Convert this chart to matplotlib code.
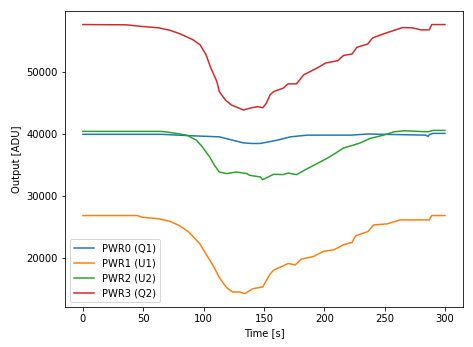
import numpy as np
import matplotlib
matplotlib.use("Agg")
import matplotlib.pyplot as plt

# values
t_pwr0 = [0, 30, 65, 91, 113, 124, 133, 140, 147, 161, 172, 186, 222, 236, 284, 286, 287, 290, 300]
pwr0 = [39950, 39950, 39950, 39710, 39550, 39010, 38580, 38480, 38480, 39010, 39550, 39820,
        39820, 40000, 39820, 39600, 39900, 40100, 40100]

t_pwr1 = [0, 45, 49, 63, 72, 80, 88, 97, 102, 108, 113, 119, 122, 124, 130, 134, 141, 149,
          155, 158, 166, 170, 176, 181, 191, 199, 208, 216, 223, 226, 236, 241, 252, 263,
          277, 287, 289, 300]
pwr1 = [26900, 26900, 26630, 26370, 25980, 25280, 24200, 22330, 20710, 18820, 16930, 15320,
        14900, 14620, 14620, 14350, 15150, 15430, 17480, 18120, 18820, 19190, 18980, 19900,
        20320, 21130, 21400, 22210, 22590, 23670, 24310, 25400, 25560, 26200, 26200, 26200,
        26900, 26900]

t_pwr2 = [0, 65, 74, 86, 94, 99, 105, 109, 113, 119, 127, 136, 138, 147, 149, 158, 166, 170,
          177, 186, 194, 202, 211, 216, 224, 230, 238, 249, 258, 266, 286, 290, 300]
pwr2 = [40420, 40420, 40200, 39820, 39010, 37930, 36320, 34980, 33890, 33640, 33890, 33640,
        33370, 33100, 32670, 33530, 33480, 33730, 33470, 34440, 35250, 36060, 37120, 37770,
        38210, 38580, 39290, 39820, 40360, 40520, 40360, 40580, 40580]

t_pwr3 = [0, 36, 47, 63, 72, 80, 91, 97, 102, 106, 111, 113, 118, 123, 133, 140, 145, 149,
          152, 155, 158, 166, 170, 177, 183, 194, 201, 211, 216, 223, 227, 236, 240, 249,
          258, 265, 273, 280, 287, 289, 300]
pwr3 = [57590, 57550, 57320, 57060, 56670, 56140, 55170, 54360, 52750, 50600, 48430, 46820,
        45480, 44670, 43860, 44230, 44400, 44230, 44940, 46280, 46820, 47370, 48060, 48060,
        49520, 50600, 51400, 51780, 52630, 52860, 53930, 54470, 55440, 56090, 56670, 57110,
        57060, 56740, 56740, 57590, 57590]

labels = ["PWR0 (Q1)", "PWR1 (U1)", "PWR2 (U2)", "PWR3 (Q2)"]

fig = plt.figure(figsize=(473 / 72, 347 / 72), dpi=72)
ax = fig.add_axes([0.137, 0.115, 0.842, 0.853])

ax.plot(t_pwr0, pwr0, label=labels[0])
ax.plot(t_pwr1, pwr1, label=labels[1])
ax.plot(t_pwr2, pwr2, label=labels[2])
ax.plot(t_pwr3, pwr3, label=labels[3])

ax.set_xlabel("Time [s]")
ax.set_ylabel("Output [ADU]")
ax.set_xticks([0, 50, 100, 150, 200, 250, 300])
ax.set_yticks([20000, 30000, 40000, 50000])
ax.legend(loc="lower left")

fig.savefig("out.png", dpi=72)
